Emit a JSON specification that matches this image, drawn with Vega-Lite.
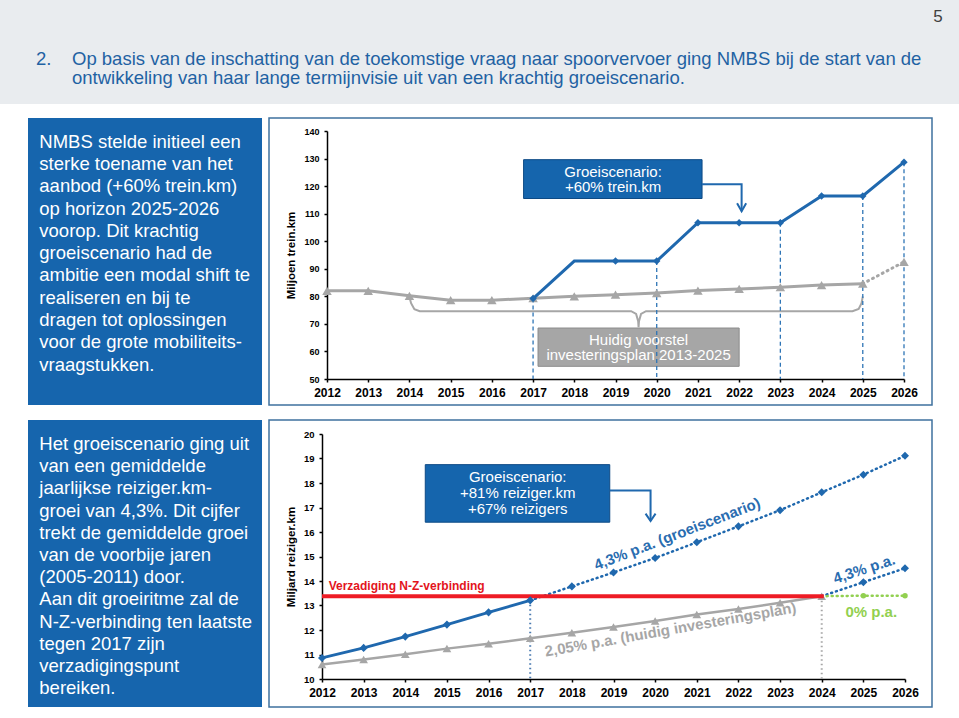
{
  "$schema": "https://vega.github.io/schema/vega-lite/v6.json",
  "background": "white",
  "padding": 0,
  "spacing": 13,
  "config": {
    "font": "Liberation Sans",
    "view": {"stroke": null},
    "axis": {
      "labelFont": "Liberation Sans",
      "labelFontWeight": "bold",
      "labelColor": "black",
      "domainColor": "black",
      "tickColor": "black",
      "domainWidth": 1.5,
      "tickWidth": 1.5,
      "tickSize": 3,
      "grid": false,
      "titleFont": "Liberation Sans",
      "titleFontWeight": "bold",
      "titleColor": "black"
    },
    "axisX": {"labelFontSize": 12, "labelPadding": 5, "labelFlush": false},
    "axisY": {"labelFontSize": 9, "labelPadding": 5, "titleFontSize": 11.5, "titlePadding": 7}
  },
  "datasets": {
    "trein_huidig": [
      {"year": 2012, "value": 82.0}, {"year": 2013, "value": 82.0}, {"year": 2014, "value": 80.2},
      {"year": 2015, "value": 78.6}, {"year": 2016, "value": 78.6}, {"year": 2017, "value": 79.3},
      {"year": 2018, "value": 80.0}, {"year": 2019, "value": 80.6}, {"year": 2020, "value": 81.2},
      {"year": 2021, "value": 82.1}, {"year": 2022, "value": 82.7}, {"year": 2023, "value": 83.3},
      {"year": 2024, "value": 84.1}, {"year": 2025, "value": 84.6}, {"year": 2026, "value": 92.5}
    ],
    "trein_groei": [
      {"year": 2017, "value": 79.2}, {"year": 2018, "value": 92.8}, {"year": 2019, "value": 92.8},
      {"year": 2020, "value": 92.8}, {"year": 2021, "value": 106.7}, {"year": 2022, "value": 106.7},
      {"year": 2023, "value": 106.7}, {"year": 2024, "value": 116.4}, {"year": 2025, "value": 116.4},
      {"year": 2026, "value": 128.7}
    ],
    "trein_accolade": [
      {"year": 2014.0, "value": 79.8}, {"year": 2014.04, "value": 77.5}, {"year": 2014.12, "value": 75.3},
      {"year": 2014.25, "value": 74.6}, {"year": 2019.38, "value": 74.6}, {"year": 2019.5, "value": 73.6},
      {"year": 2019.55, "value": 71.0}, {"year": 2019.56, "value": 68.8}, {"year": 2019.57, "value": 71.0},
      {"year": 2019.62, "value": 73.6}, {"year": 2019.74, "value": 74.6}, {"year": 2024.75, "value": 74.6},
      {"year": 2024.9, "value": 75.4}, {"year": 2024.97, "value": 77.5}, {"year": 2025.0, "value": 80.0}
    ],
    "trein_vakken": [
      {"year": 2016.77, "year2": 2021.1, "value": 129.6, "value2": 115.5, "kind": "groei"},
      {"year": 2017.12, "year2": 2022.0, "value": 68.5, "value2": 54.6, "kind": "huidig"}
    ],
    "trein_teksten": [
      {"year": 2018.94, "value": 122.55, "label": ["Groeiscenario:", "+60% trein.km"]},
      {"year": 2019.56, "value": 61.5, "label": ["Huidig voorstel", "investeringsplan 2013-2025"]}
    ],
    "trein_pijl": [
      {"year": 2021.1, "value": 120.7, "part": "schacht", "o": 1},
      {"year": 2022.06, "value": 120.7, "part": "schacht", "o": 2},
      {"year": 2022.06, "value": 110.9, "part": "schacht", "o": 3},
      {"year": 2021.95, "value": 113.8, "part": "punt", "o": 1},
      {"year": 2022.06, "value": 110.9, "part": "punt", "o": 2},
      {"year": 2022.17, "value": 113.8, "part": "punt", "o": 3}
    ],
    "reiziger_groei": [
      {"year": 2012, "value": 10.86}, {"year": 2013, "value": 11.27}, {"year": 2014, "value": 11.73},
      {"year": 2015, "value": 12.22}, {"year": 2016, "value": 12.72}, {"year": 2017, "value": 13.21},
      {"year": 2018, "value": 13.78}, {"year": 2019, "value": 14.35}, {"year": 2020, "value": 14.94},
      {"year": 2021, "value": 15.58}, {"year": 2022, "value": 16.23}, {"year": 2023, "value": 16.89},
      {"year": 2024, "value": 17.62}, {"year": 2025, "value": 18.34}, {"year": 2026, "value": 19.11}
    ],
    "reiziger_huidig": [
      {"year": 2012, "value": 10.59}, {"year": 2013, "value": 10.8}, {"year": 2014, "value": 11.01},
      {"year": 2015, "value": 11.24}, {"year": 2016, "value": 11.44}, {"year": 2017, "value": 11.66},
      {"year": 2018, "value": 11.89}, {"year": 2019, "value": 12.12}, {"year": 2020, "value": 12.37},
      {"year": 2021, "value": 12.63}, {"year": 2022, "value": 12.86}, {"year": 2023, "value": 13.11},
      {"year": 2024, "value": 13.38}
    ],
    "reiziger_na2024": [
      {"year": 2024, "value": 13.38, "scenario": "4,3%"}, {"year": 2025, "value": 13.95, "scenario": "4,3%"},
      {"year": 2026, "value": 14.52, "scenario": "4,3%"},
      {"year": 2024, "value": 13.38, "scenario": "0%"}, {"year": 2025, "value": 13.4, "scenario": "0%"},
      {"year": 2026, "value": 13.4, "scenario": "0%"}
    ],
    "verzadiging": [
      {"year": 2012, "value": 13.38}, {"year": 2024.05, "value": 13.38}
    ],
    "reiziger_pijl": [
      {"year": 2018.91, "value": 17.69, "part": "schacht", "o": 1},
      {"year": 2019.89, "value": 17.69, "part": "schacht", "o": 2},
      {"year": 2019.89, "value": 16.45, "part": "schacht", "o": 3},
      {"year": 2019.77, "value": 16.75, "part": "punt", "o": 1},
      {"year": 2019.89, "value": 16.45, "part": "punt", "o": 2},
      {"year": 2020.01, "value": 16.75, "part": "punt", "o": 3}
    ]
  },
  "vconcat": [
    {
      "width": 959,
      "height": 104,
      "view": {"fill": "#e9ecef", "stroke": null},
      "data": {"values": [{"nr": "2.", "r1": "Op basis van de inschatting van de toekomstige vraag naar spoorvervoer ging NMBS bij de start van de", "r2": "ontwikkeling van haar lange termijnvisie uit van een krachtig groeiscenario.", "pagina": "5"}]},
      "layer": [
        {"mark": {"type": "text", "align": "left", "baseline": "middle", "dx": -443.5, "dy": 6.5, "fontSize": 18.5, "color": "#1f62a3"}, "encoding": {"text": {"field": "nr", "type": "nominal"}}},
        {"mark": {"type": "text", "align": "left", "baseline": "middle", "dx": -407.5, "dy": 6.5, "fontSize": 18.5, "color": "#1f62a3"}, "encoding": {"text": {"field": "r1", "type": "nominal"}}},
        {"mark": {"type": "text", "align": "left", "baseline": "middle", "dx": -407.5, "dy": 25.5, "fontSize": 18.5, "color": "#1f62a3"}, "encoding": {"text": {"field": "r2", "type": "nominal"}}},
        {"mark": {"type": "text", "align": "center", "baseline": "middle", "dx": 458.5, "dy": -35, "fontSize": 17, "color": "#404040"}, "encoding": {"text": {"field": "pagina", "type": "nominal"}}}
      ]
    },
    {
      "spacing": 6,
      "hconcat": [
        {"width": 22, "height": 10, "data": {"values": [{"t": ""}]}, "mark": "text", "encoding": {"text": {"field": "t", "type": "nominal"}}},
        {
          "width": 234,
          "height": 287,
          "view": {"fill": "#1665ad", "stroke": null},
          "data": {"values": [{"tekst": ["NMBS stelde initieel een", "sterke toename van het", "aanbod (+60% trein.km)", "op horizon 2025-2026", "voorop. Dit krachtig", "groeiscenario  had de", "ambitie een modal shift te", "realiseren en bij te", "dragen tot oplossingen", "voor de grote mobiliteits-", "vraagstukken."]}]},
          "mark": {"type": "text", "align": "left", "baseline": "alphabetic", "dx": -105.7, "dy": -113.8, "fontSize": 18.5, "lineHeight": 22.3, "color": "white"},
          "encoding": {"text": {"field": "tekst", "type": "nominal"}}
        },
        {
          "width": 663,
          "height": 287,
          "view": {"stroke": "#3f729f", "strokeWidth": 1.5, "fill": "white"},
          "encoding": {
            "x": {"field": "year", "type": "quantitative", "scale": {"domain": [2012, 2026], "range": [58, 635], "nice": false, "zero": false},
                  "axis": {"values": [2012, 2013, 2014, 2015, 2016, 2017, 2018, 2019, 2020, 2021, 2022, 2023, 2024, 2025, 2026], "format": "d", "title": null, "offset": -26}},
            "y": {"field": "value", "type": "quantitative", "scale": {"domain": [50, 140], "range": [261, 13], "nice": false, "zero": false},
                  "axis": {"values": [50, 60, 70, 80, 90, 100, 110, 120, 130, 140], "title": "Miljoen trein.km", "offset": -58}}
          },
          "layer": [
            {"data": {"name": "trein_accolade"}, "mark": {"type": "line", "color": "#a6a6a6", "strokeWidth": 2}},
            {"data": {"name": "trein_vakken"}, "transform": [{"filter": "datum.kind == 'huidig'"}],
             "mark": {"type": "rect", "stroke": "#8c8c8c", "strokeWidth": 1},
             "encoding": {"x2": {"field": "year2"}, "y2": {"field": "value2"},
                          "fill": {"field": "kind", "type": "nominal", "scale": {"domain": ["groei", "huidig"], "range": ["#1565ad", "#a6a6a6"]}, "legend": null}}},
            {"data": {"name": "trein_teksten"}, "transform": [{"filter": "datum.year > 2019"}],
             "mark": {"type": "text", "color": "white", "fontSize": 15, "lineHeight": 15, "baseline": "middle", "align": "center", "dy": -7.5},
             "encoding": {"text": {"field": "label", "type": "nominal"}}},
            {"data": {"name": "trein_groei"}, "transform": [{"filter": "indexof([2017, 2020, 2023, 2025, 2026], datum.year) >= 0"}],
             "mark": {"type": "rule", "color": "#2e75b6", "strokeWidth": 1.3, "strokeDash": [4, 3]},
             "encoding": {"y2": {"datum": 50}}},
            {"data": {"name": "trein_huidig"}, "transform": [{"filter": "datum.year <= 2025"}],
             "mark": {"type": "line", "color": "#a6a6a6", "strokeWidth": 3}},
            {"data": {"name": "trein_huidig"}, "transform": [{"filter": "datum.year >= 2025"}],
             "mark": {"type": "line", "color": "#a6a6a6", "strokeWidth": 3, "strokeDash": [1, 4.5], "strokeCap": "round"}},
            {"data": {"name": "trein_huidig"},
             "mark": {"type": "point", "shape": "triangle-up", "filled": true, "size": 90, "color": "#a6a6a6", "opacity": 1}},
            {"data": {"name": "trein_groei"}, "mark": {"type": "line", "color": "#1f68ae", "strokeWidth": 3}},
            {"data": {"name": "trein_groei"}, "transform": [{"filter": "datum.year != 2018"}],
             "mark": {"type": "point", "shape": "diamond", "filled": true, "size": 55, "color": "#1f68ae", "opacity": 1}},
            {"data": {"name": "trein_vakken"}, "transform": [{"filter": "datum.kind == 'groei'"}],
             "mark": {"type": "rect", "stroke": "#0d4a85", "strokeWidth": 1},
             "encoding": {"x2": {"field": "year2"}, "y2": {"field": "value2"},
                          "fill": {"field": "kind", "type": "nominal", "scale": {"domain": ["groei", "huidig"], "range": ["#1565ad", "#a6a6a6"]}, "legend": null}}},
            {"data": {"name": "trein_teksten"}, "transform": [{"filter": "datum.year < 2019"}],
             "mark": {"type": "text", "color": "white", "fontSize": 15, "lineHeight": 15, "baseline": "middle", "align": "center", "dy": -7.5},
             "encoding": {"text": {"field": "label", "type": "nominal"}}},
            {"data": {"name": "trein_pijl"},
             "mark": {"type": "line", "color": "#1f68ae", "strokeWidth": 2},
             "encoding": {"detail": {"field": "part", "type": "nominal"}, "order": {"field": "o", "type": "quantitative"}}}
          ]
        }
      ]
    },
    {
      "spacing": 6,
      "hconcat": [
        {"width": 22, "height": 10, "data": {"values": [{"t": ""}]}, "mark": "text", "encoding": {"text": {"field": "t", "type": "nominal"}}},
        {
          "width": 234,
          "height": 287,
          "view": {"fill": "#1665ad", "stroke": null},
          "data": {"values": [{"tekst": ["Het groeiscenario ging uit", "van een gemiddelde", "jaarlijkse reiziger.km-", "groei van 4,3%. Dit cijfer", "trekt de gemiddelde groei", "van de voorbije jaren", "(2005-2011) door.", "Aan dit groeiritme zal de", "N-Z-verbinding ten laatste", "tegen 2017 zijn", "verzadigingspunt", "bereiken."]}]},
          "mark": {"type": "text", "align": "left", "baseline": "alphabetic", "dx": -105.7, "dy": -113.5, "fontSize": 18.5, "lineHeight": 22.2, "color": "white"},
          "encoding": {"text": {"field": "tekst", "type": "nominal"}}
        },
        {
          "width": 663,
          "height": 287,
          "view": {"stroke": "#3f729f", "strokeWidth": 1.5, "fill": "white"},
          "encoding": {
            "x": {"field": "year", "type": "quantitative", "scale": {"domain": [2012, 2026], "range": [53, 636], "nice": false, "zero": false},
                  "axis": {"values": [2012, 2013, 2014, 2015, 2016, 2017, 2018, 2019, 2020, 2021, 2022, 2023, 2024, 2025, 2026], "format": "d", "title": null, "offset": -28}},
            "y": {"field": "value", "type": "quantitative", "scale": {"domain": [10, 20], "range": [259, 14], "nice": false, "zero": false},
                  "axis": {"values": [10, 11, 12, 13, 14, 15, 16, 17, 18, 19, 20], "title": "Miljard reiziger.km", "offset": -53, "labelFontSize": 9.5}}
          },
          "layer": [
            {"data": {"name": "reiziger_groei"}, "transform": [{"filter": "datum.year == 2017"}],
             "mark": {"type": "rule", "color": "#4a7ab0", "strokeWidth": 2, "strokeDash": [1.5, 3]},
             "encoding": {"y2": {"datum": 10}}},
            {"data": {"name": "reiziger_huidig"}, "transform": [{"filter": "datum.year == 2024"}],
             "mark": {"type": "rule", "color": "#a6a6a6", "strokeWidth": 2, "strokeDash": [1.5, 3]},
             "encoding": {"y2": {"datum": 10}}},
            {"data": {"name": "reiziger_huidig"}, "mark": {"type": "line", "color": "#a6a6a6", "strokeWidth": 2.5}},
            {"data": {"name": "reiziger_huidig"},
             "mark": {"type": "point", "shape": "triangle-up", "filled": true, "size": 75, "color": "#a6a6a6", "opacity": 1}},
            {"data": {"name": "reiziger_groei"}, "transform": [{"filter": "datum.year >= 2017"}],
             "mark": {"type": "line", "color": "#1f68ae", "strokeWidth": 2.5, "strokeDash": [1, 4], "strokeCap": "round"}},
            {"data": {"name": "reiziger_na2024"}, "transform": [{"filter": "datum.scenario == '4,3%'"}],
             "mark": {"type": "line", "color": "#1f68ae", "strokeWidth": 2.5, "strokeDash": [1, 4], "strokeCap": "round"}},
            {"data": {"name": "reiziger_na2024"}, "transform": [{"filter": "datum.scenario == '0%'"}],
             "mark": {"type": "line", "color": "#92d050", "strokeWidth": 2.5, "strokeDash": [1, 4], "strokeCap": "round"}},
            {"data": {"name": "verzadiging"}, "mark": {"type": "line", "color": "#ee1c25", "strokeWidth": 4}},
            {"data": {"name": "reiziger_groei"}, "transform": [{"filter": "datum.year <= 2017"}],
             "mark": {"type": "line", "color": "#1f68ae", "strokeWidth": 2.8}},
            {"data": {"name": "reiziger_groei"},
             "mark": {"type": "point", "shape": "diamond", "filled": true, "size": 65, "color": "#1f68ae", "opacity": 1}},
            {"data": {"name": "reiziger_na2024"}, "transform": [{"filter": "datum.scenario == '4,3%' && datum.year > 2024"}],
             "mark": {"type": "point", "shape": "diamond", "filled": true, "size": 65, "color": "#1f68ae", "opacity": 1}},
            {"data": {"name": "reiziger_na2024"}, "transform": [{"filter": "datum.scenario == '0%' && datum.year > 2024"}],
             "mark": {"type": "point", "shape": "circle", "filled": true, "size": 30, "color": "#92d050", "opacity": 1}},
            {"data": {"values": [{"year": 2012.16, "value": 13.8, "label": "Verzadiging N-Z-verbinding"}]},
             "mark": {"type": "text", "align": "left", "baseline": "middle", "fontSize": 12, "fontWeight": "bold", "color": "#e3141c"},
             "encoding": {"text": {"field": "label", "type": "nominal"}}},
            {"data": {"values": [{"year": 2020.53, "value": 15.92, "label": "4,3% p.a. (groeiscenario)"}]},
             "mark": {"type": "text", "align": "center", "baseline": "middle", "angle": 339, "fontSize": 15, "fontWeight": "bold", "color": "#2a6db0"},
             "encoding": {"text": {"field": "label", "type": "nominal"}}},
            {"data": {"values": [{"year": 2025.02, "value": 14.49, "label": "4,3% p.a."}]},
             "mark": {"type": "text", "align": "center", "baseline": "middle", "angle": 342, "fontSize": 15, "fontWeight": "bold", "color": "#2a6db0"},
             "encoding": {"text": {"field": "label", "type": "nominal"}}},
            {"data": {"values": [{"year": 2025.19, "value": 12.72, "label": "0% p.a."}]},
             "mark": {"type": "text", "align": "center", "baseline": "middle", "fontSize": 15, "fontWeight": "bold", "color": "#92d050"},
             "encoding": {"text": {"field": "label", "type": "nominal"}}},
            {"data": {"values": [{"year": 2020.37, "value": 12.02, "label": "2,05% p.a. (huidig investeringsplan)"}]},
             "mark": {"type": "text", "align": "center", "baseline": "middle", "angle": 350, "fontSize": 15, "fontWeight": "bold", "color": "#a6a6a6"},
             "encoding": {"text": {"field": "label", "type": "nominal"}}},
            {"data": {"values": [{"year": 2014.48, "year2": 2018.91, "value": 18.75, "value2": 16.4}]},
             "mark": {"type": "rect", "fill": "#1565ad", "stroke": "#0d4a85", "strokeWidth": 1},
             "encoding": {"x2": {"field": "year2"}, "y2": {"field": "value2"}}},
            {"data": {"values": [{"year": 2016.7, "value": 17.58, "label": ["Groeiscenario:", "+81% reiziger.km", "+67% reizigers"]}]},
             "mark": {"type": "text", "color": "white", "fontSize": 15, "lineHeight": 16, "baseline": "middle", "align": "center", "dy": -16},
             "encoding": {"text": {"field": "label", "type": "nominal"}}},
            {"data": {"name": "reiziger_pijl"},
             "mark": {"type": "line", "color": "#1f68ae", "strokeWidth": 2},
             "encoding": {"detail": {"field": "part", "type": "nominal"}, "order": {"field": "o", "type": "quantitative"}}}
          ]
        }
      ]
    }
  ]
}
